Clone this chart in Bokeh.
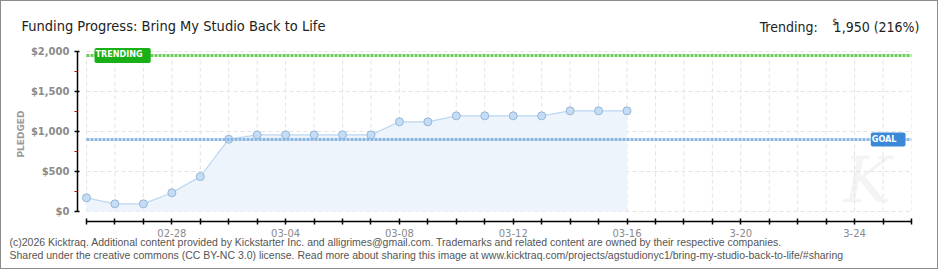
import pandas as pd
from bokeh.plotting import figure
from bokeh.models import (ColumnDataSource, FixedTicker, NumeralTickFormatter,
                          Label, Range1d)
from bokeh.embed import file_html
from bokeh.resources import INLINE

# ---------------- data ----------------
title_text = "Funding Progress: Bring My Studio Back to Life"
dates = ["2026-02-25", "2026-02-26", "2026-02-27", "2026-02-28", "2026-03-01",
         "2026-03-02", "2026-03-03", "2026-03-04", "2026-03-05", "2026-03-06",
         "2026-03-07", "2026-03-08", "2026-03-09", "2026-03-10", "2026-03-11",
         "2026-03-12", "2026-03-13", "2026-03-14", "2026-03-15", "2026-03-16"]
pledged = [171, 96, 96, 234, 436, 904, 958, 958, 958, 958, 958, 1121, 1121,
           1196, 1196, 1196, 1196, 1258, 1258, 1258]
goal = 900
trending = 1950
trending_pct = 216
axis_start = "2026-02-25"
axis_end = "2026-03-26"
x_tick_dates = ["2026-02-28", "2026-03-04", "2026-03-08", "2026-03-12",
                "2026-03-16", "2026-03-20", "2026-03-24"]
x_tick_labels = ["02-28", "03-04", "03-08", "03-12", "03-16", "3-20", "3-24"]
y_ticks = [0, 500, 1000, 1500, 2000]
y_minor_ticks = [250, 750, 1250, 1750]
y_axis_label = "PLEDGED"
footer_lines = [
    "(c)2026 Kicktraq. Additional content provided by Kickstarter Inc. and alligrimes@gmail.com. "
    "Trademarks and related content are owned by their respective companies.",
    "Shared under the creative commons (CC BY-NC 3.0) license. Read more about sharing this image at "
    "www.kicktraq.com/projects/agstudionyc1/bring-my-studio-back-to-life/#sharing",
]

# ---------------- derived ----------------
t0 = pd.Timestamp(axis_start)
day = [(pd.Timestamp(d) - t0).days for d in dates]
n_days = (pd.Timestamp(axis_end) - t0).days
all_days = list(range(0, n_days + 1))
tick_days = [(pd.Timestamp(d) - t0).days for d in x_tick_dates]

# ---------------- layout (page pixels) ----------------
W, H = 938, 269
FL, FR, FT, FB = 76, 910, 45, 220          # frame edges
X0 = 85                                      # pixel of first day
Y0 = 210                                     # pixel of $0
YTOP = 50                                    # pixel of $2,000
px_day = (FR - X0) / n_days
px_unit = (Y0 - YTOP) / y_ticks[-1]

x_range = Range1d(-(X0 - FL) / px_day, n_days)
y_range = Range1d(-(FB - Y0) / px_unit, y_ticks[-1] + (YTOP - FT) / px_unit)

p = figure(width=W, height=H, output_backend="svg", toolbar_location=None,
           x_range=x_range, y_range=y_range)
p.min_border_left = FL
p.min_border_right = W - FR
p.min_border_top = FT
p.min_border_bottom = H - FB
p.outline_line_color = None
p.background_fill_color = "white"
p.border_fill_color = "white"
p.xgrid.visible = False
p.ygrid.visible = False
p.styles = {"border": "1px solid #8c8c8c", "box-sizing": "border-box"}

def sx(page_x):
    return page_x - FL

def sy(page_y):
    return FB - page_y

# ---------------- grid (dashed) ----------------
p.segment(x0=all_days, x1=all_days, y0=[0] * len(all_days),
          y1=[y_ticks[-1]] * len(all_days), line_color="#e3e3e3",
          line_dash="4 3", line_width=1)
p.segment(x0=[0] * len(y_ticks), x1=[n_days] * len(y_ticks), y0=y_ticks,
          y1=y_ticks, line_color="#e3e3e3", line_dash="4 3", line_width=1)

# watermark
p.add_layout(Label(x=sx(866), y=sy(178), x_units="screen", y_units="screen",
                   text="K", text_align="center", text_baseline="middle",
                   text_font="DejaVu Serif", text_font_style="italic",
                   text_font_size="64px", text_color="#f4f4f4", level="underlay"))

# ---------------- data ----------------
src = ColumnDataSource(dict(x=day, y=pledged, base=[0] * len(day)))
p.varea(x="x", y1="base", y2="y", source=src, fill_color="#edf4fc")
p.line(x="x", y="y", source=src, line_color="#bcd6f2", line_width=1.2)
p.scatter(x="x", y="y", source=src, size=8, fill_color="#c4ddf6",
          line_color="#98b6d4", line_width=1)

# goal & trending lines
p.segment(x0=[0], x1=[n_days], y0=[trending], y1=[trending],
          line_color="#6ccc58", line_width=3, line_dash="3 1")
p.segment(x0=[0], x1=[n_days], y0=[goal], y1=[goal],
          line_color="#8ab6e2", line_width=3, line_dash="3 1")

# badges
badge_kw = dict(x_units="screen", y_units="data", text_baseline="middle",
                text_font="DejaVu Sans Condensed", text_font_style="bold",
                text_font_size="9px", text_color="white", border_radius=2)
p.add_layout(Label(x=sx(93), y=trending, text="TRENDING", text_align="left",
                   background_fill_color="#18b016", padding=(1, 8, 1, 4),
                   **badge_kw))
p.add_layout(Label(x=sx(904), y=goal, text="GOAL", text_align="right",
                   background_fill_color="#3a88d8", padding=(1, 9, 1, 3),
                   **badge_kw))

# ---------------- axes ----------------
xa = p.xaxis[0]
xa.ticker = FixedTicker(ticks=all_days, minor_ticks=[])
overrides = {d: "" for d in all_days}
for d, lab in zip(tick_days, x_tick_labels):
    overrides[d] = lab
xa.major_label_overrides = overrides
xa.bounds = (0, n_days)
xa.axis_line_color = "black"
xa.axis_line_width = 1.5
xa.major_tick_line_color = "black"
xa.major_tick_line_width = 1.5
xa.major_tick_in = 3
xa.major_tick_out = 3
xa.major_label_standoff = 4
xa.major_label_text_color = "#8a8a8a"
xa.major_label_text_font = "DejaVu Sans"
xa.major_label_text_font_size = "10px"

ya = p.yaxis[0]
ya.ticker = FixedTicker(ticks=y_ticks, minor_ticks=y_minor_ticks)
ya.formatter = NumeralTickFormatter(format="$0,0")
ya.bounds = (0, y_ticks[-1])
ya.axis_line_color = "black"
ya.axis_line_width = 1.5
ya.major_tick_line_color = "black"
ya.major_tick_line_width = 1.5
ya.major_tick_in = 2
ya.major_tick_out = 3
ya.minor_tick_line_color = "#dd0000"
ya.minor_tick_in = 0
ya.minor_tick_out = 3
ya.major_label_standoff = 5
ya.major_label_text_color = "#8a8a8a"
ya.major_label_text_font = "DejaVu Sans"
ya.major_label_text_font_style = "bold"
ya.major_label_text_font_size = "10px"
ya.axis_label = y_axis_label
ya.axis_label_standoff = 2
ya.axis_label_text_color = "#9a9a9a"
ya.axis_label_text_font = "DejaVu Sans"
ya.axis_label_text_font_style = "bold"
ya.axis_label_text_font_size = "9px"

# ---------------- texts in side panels (not clipped) ----------------
# each label in a side panel gets its own stacked slot; y is measured
# upward from the bottom of that slot
top_kw = dict(x_units="screen", y_units="screen", text_baseline="middle",
              text_font="DejaVu Sans Condensed", text_color="#222222")
p.add_layout(Label(x=sx(20), y=21, text=title_text, text_align="left",
                   text_font_size="14.5px", **top_kw), "above")
nb = "\u00a0" * 4
p.add_layout(Label(x=sx(918), y=4,
                   text=f"Trending:{nb}{trending:,} ({trending_pct}%)",
                   text_align="right", text_font_size="14px", **top_kw), "above")
p.add_layout(Label(x=836 - FR, y=FB - 20, x_units="screen", y_units="screen",
                   text="$", text_align="right", text_baseline="middle",
                   text_font="DejaVu Sans Condensed", text_font_size="9px",
                   text_color="#222222"), "right")

foot_y = [10, 9]
for line, yy in zip(footer_lines, foot_y):
    p.add_layout(Label(x=sx(8), y=yy, x_units="screen",
                       y_units="screen", text=line, text_align="left",
                       text_baseline="middle", text_font="Liberation Sans",
                       text_font_size="10.5px", text_color="#555555"), "below")

open("out.html", "w").write(file_html(p, INLINE))
